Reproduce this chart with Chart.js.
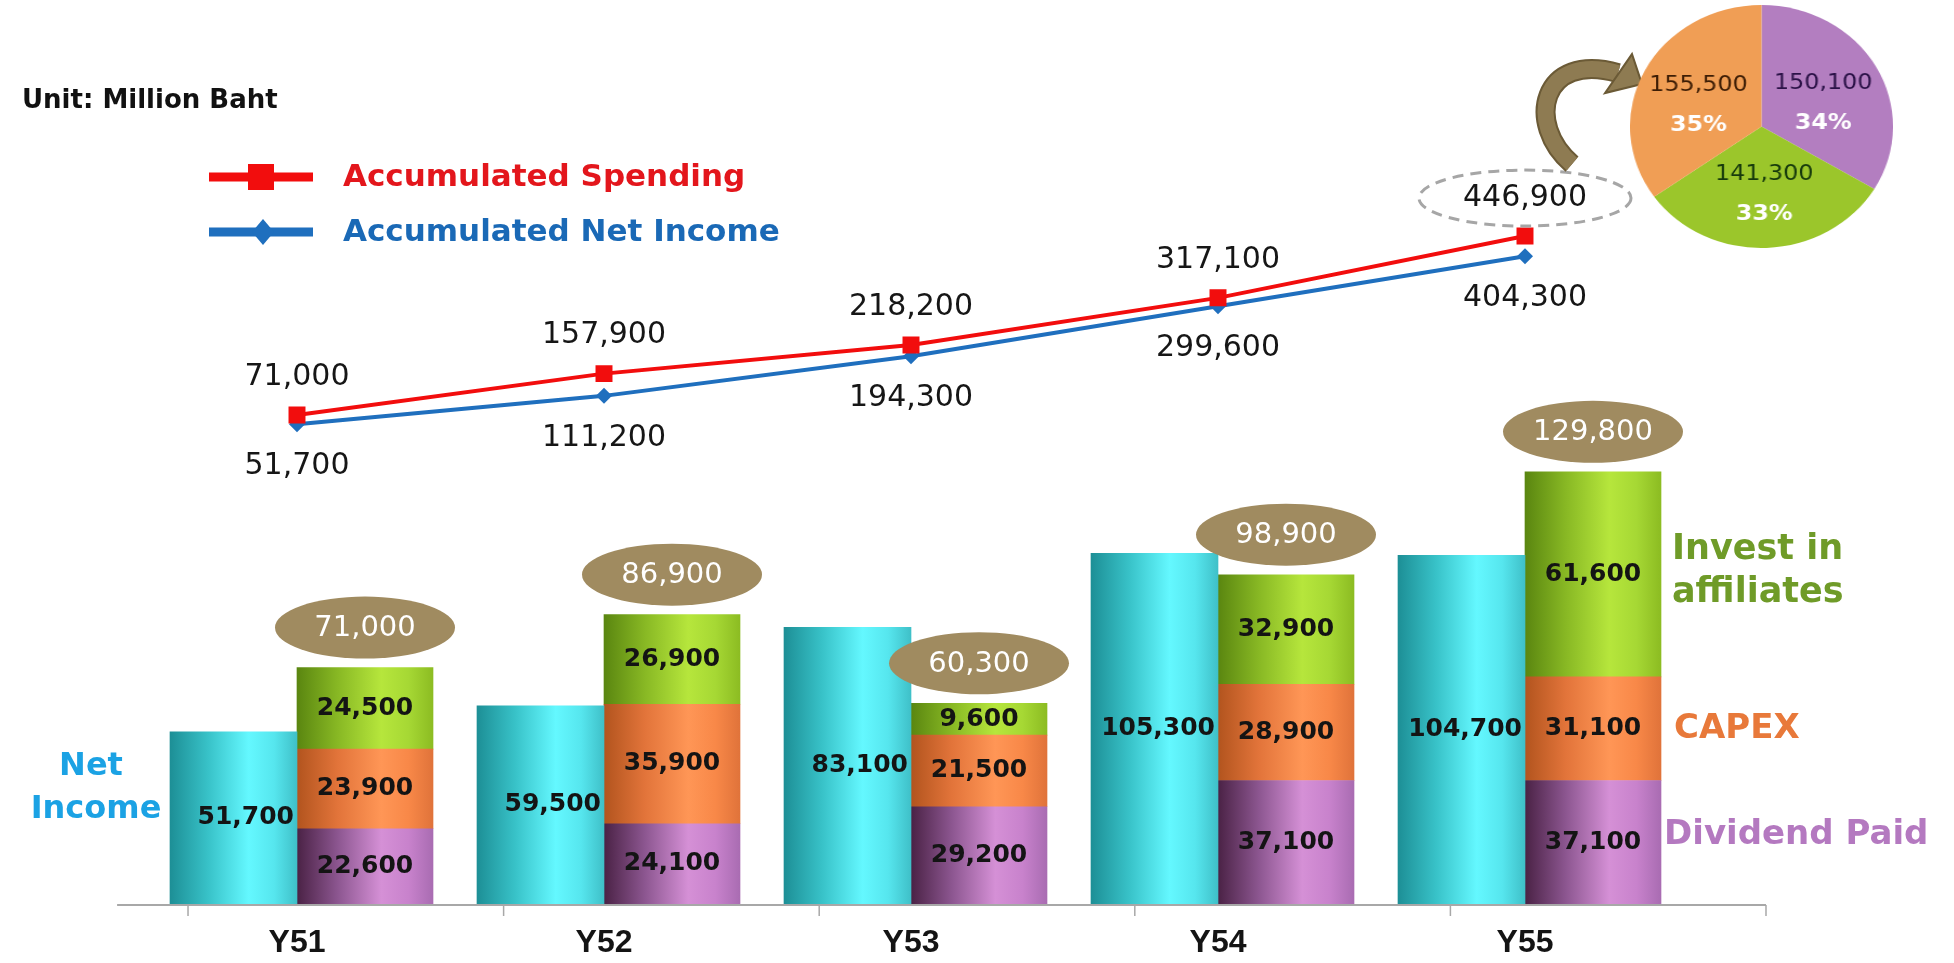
<!DOCTYPE html>
<html><head><meta charset="utf-8">
<script src="https://cdn.jsdelivr.net/npm/chart.js@4.4.0/dist/chart.umd.min.js"></script>
<style>
html,body{margin:0;padding:0;background:#fff;overflow:hidden;}
#wrap{position:relative;width:1954px;height:963px;background:#fff;}
#main{position:absolute;left:0;top:0;}
#pie{position:absolute;left:1630px;top:5px;transform:scaleX(1.0823);transform-origin:0 0;}
</style></head><body>
<div id="wrap">
<canvas id="main" width="1954" height="963"></canvas>
<canvas id="pie" width="243" height="243"></canvas>
</div>
<script>
// ---------- data ----------
const categories = ['Y51', 'Y52', 'Y53', 'Y54', 'Y55'];
const netIncome = [51700, 59500, 83100, 105300, 104700];
const dividendPaid = [22600, 24100, 29200, 37100, 37100];
const capex = [23900, 35900, 21500, 28900, 31100];
const investAffiliates = [24500, 26900, 9600, 32900, 61600];
const accSpending = [71000, 157900, 218200, 317100, 446900];
const accNetIncome = [51700, 111200, 194300, 299600, 404300];
const pieSliceValues = [150100, 141300, 155500];
const pieSlicePercents = ['34%', '33%', '35%'];
const pieColors = ['#b37ec0', '#9bc62b', '#f09e55'];
const pieTextColors = ['#2b1247', '#163a0c', '#3d1d05'];

const FONT = '"DejaVu Sans", Verdana, sans-serif';
const fmt = v => v.toLocaleString('en-US');

function cylinder(stops, side) {
  return function (c) {
    const chart = c.chart;
    const xs = chart.scales && chart.scales.x;
    if (!chart.chartArea || !xs || c.dataIndex === undefined) return stops[3][1];
    const cx = xs.getPixelForValue(c.dataIndex);
    const w = c.dataset.barThickness;
    const x0 = side === 'left' ? cx - w : cx;
    const g = chart.ctx.createLinearGradient(x0, 0, x0 + w, 0);
    stops.forEach(s => g.addColorStop(s[0], s[1]));
    return g;
  };
}
const cyanStops = [[0, '#1d8f96'], [0.3, '#38c2c8'], [0.62, '#64f8ff'], [0.82, '#56e6ee'], [1, '#3fc0c8']];
const purpleStops = [[0, '#4a2245'], [0.3, '#8c5690'], [0.62, '#d590d6'], [0.82, '#c882cc'], [1, '#a96cb2']];
const orangeStops = [[0, '#b2541e'], [0.3, '#e2743a'], [0.62, '#ff9656'], [0.82, '#f88848'], [1, '#e0733a']];
const greenStops = [[0, '#5a8610'], [0.3, '#88b824'], [0.62, '#b6e63c'], [0.82, '#a6d834'], [1, '#8cbc22']];

// ---------- plugins ----------
const axisPlugin = {
  id: 'axisLine',
  beforeDatasetsDraw(chart) {
    const xs = chart.scales.x, ctx = chart.ctx;
    const p0 = xs.getPixelForValue(0), cw = xs.getPixelForValue(1) - p0;
    const y = chart.chartArea.bottom + 1;
    ctx.save();
    ctx.strokeStyle = '#a8a8a8';
    ctx.lineWidth = 2;
    ctx.beginPath();
    ctx.moveTo(p0 - 0.586 * cw, y);
    ctx.lineTo(p0 + 4.785 * cw, y);
    ctx.stroke();
    ctx.lineWidth = 1.5;
    for (let k = 0; k <= 5; k++) {
      const tx = p0 - 0.355 * cw + k * 1.028 * cw;
      ctx.beginPath(); ctx.moveTo(tx, y); ctx.lineTo(tx, y + 11); ctx.stroke();
    }
    ctx.restore();
  }
};

const labelPlugin = {
  id: 'valueLabels',
  afterDatasetsDraw(chart) {
    const ctx = chart.ctx;
    ctx.save();
    ctx.textBaseline = 'middle';
    const spendTops = [];
    chart.data.datasets.forEach((ds, di) => {
      const meta = chart.getDatasetMeta(di);
      if (meta.type === 'bar') {
        meta.data.forEach((el, i) => {
          const p = el.getProps(['x', 'y', 'base', 'width'], true);
          ctx.font = 'bold 25px ' + FONT;
          ctx.fillStyle = '#141414';
          if (ds.stack === 'ni') {
            ctx.textAlign = 'right';
            ctx.fillText(fmt(ds.data[i]), p.x + p.width / 2 - 3, (p.y + p.base) / 2);
          } else {
            ctx.textAlign = 'center';
            ctx.fillText(fmt(ds.data[i]), p.x, (p.y + p.base) / 2);
            if (!spendTops[i] || p.y < spendTops[i].y) spendTops[i] = {x: p.x, y: p.y};
          }
        });
      } else if (meta.type === 'line') {
        meta.data.forEach((el, i) => {
          ctx.font = '30px ' + FONT;
          ctx.fillStyle = '#161616';
          ctx.textAlign = 'center';
          const dy = ds.labelPos === 'above' ? -38 : 42;
          ctx.fillText(fmt(ds.data[i]), el.x, el.y + dy);
        });
      }
    });
    // totals in brown ellipses
    spendTops.forEach((t, i) => {
      const total = dividendPaid[i] + capex[i] + investAffiliates[i];
      const cy = t.y - 40;
      ctx.beginPath();
      ctx.ellipse(t.x, cy, 90, 31, 0, 0, Math.PI * 2);
      ctx.fillStyle = '#a08b60';
      ctx.fill();
      ctx.font = '29px ' + FONT;
      ctx.fillStyle = '#ffffff';
      ctx.textAlign = 'center';
      ctx.fillText(fmt(total), t.x, cy + 1);
    });
    ctx.restore();
  }
};

const decorPlugin = {
  id: 'decor',
  afterDraw(chart) {
    const ctx = chart.ctx;
    const ds = chart.data.datasets;
    ctx.save();
    ctx.textBaseline = 'middle';
    // Unit
    ctx.font = 'bold 26px ' + FONT;
    ctx.fillStyle = '#111';
    ctx.textAlign = 'left';
    ctx.fillText('Unit: Million Baht', 22, 101);
    // legend
    const leg = [ds[0], ds[1]];
    const legY = [177, 232];
    leg.forEach((d, k) => {
      const y = legY[k];
      ctx.strokeStyle = d.borderColor;
      ctx.lineWidth = 9;
      ctx.beginPath(); ctx.moveTo(209, y); ctx.lineTo(313, y); ctx.stroke();
      ctx.fillStyle = d.borderColor;
      if (d.pointStyle === 'rect') {
        ctx.fillRect(248, y - 13, 26, 26);
      } else {
        ctx.beginPath();
        ctx.moveTo(263, y - 13); ctx.lineTo(274, y); ctx.lineTo(263, y + 13); ctx.lineTo(252, y); ctx.closePath();
        ctx.fill();
      }
      ctx.font = 'bold 31px ' + FONT;
      ctx.fillStyle = d.legendText;
      ctx.textAlign = 'left';
      ctx.fillText(d.label, 343, y + 1);
    });
    // series names beside bars
    const last = categories.length - 1;
    const sideLabel = (di, lines, color, dyAdj, dxAdj) => {
      const el = chart.getDatasetMeta(di).data[last];
      const p = el.getProps(['x', 'y', 'base', 'width'], true);
      const cy = (p.y + p.base) / 2 + dyAdj;
      ctx.fillStyle = color;
      ctx.textAlign = 'left';
      lines.forEach((t, j) => ctx.fillText(t, p.x + p.width / 2 + 11 + dxAdj, cy + (j - (lines.length - 1) / 2) * 43));
    };
    ctx.font = 'bold 35px ' + FONT;
    sideLabel(5, ['Invest in', 'affiliates'], '#6f9b28', -3, 0);
    ctx.font = 'bold 34px ' + FONT;
    sideLabel(4, ['CAPEX'], '#e8793a', 0, 2);
    ctx.font = 'bold 34px ' + FONT;
    sideLabel(3, ['Dividend Paid'], '#b479c0', -7, -8);
    // Net Income label
    const ni = chart.getDatasetMeta(2).data[0].getProps(['x', 'width', 'y', 'base'], true);
    ctx.font = 'bold 32px ' + FONT;
    ctx.fillStyle = '#1ba2e4';
    ctx.textAlign = 'center';
    const nx = ni.x - ni.width / 2 - 74;
    const ny = (ni.y + ni.base) / 2 - 30;
    ctx.fillText('Net', nx - 5, ny - 21);
    ctx.fillText('Income', nx, ny + 22);
    // dashed ellipse around last accumulated spending label + arrow to pie
    const lp = chart.getDatasetMeta(0).data[last];
    ctx.setLineDash([11, 7]);
    ctx.strokeStyle = '#a6a6a6';
    ctx.lineWidth = 3;
    ctx.beginPath();
    ctx.ellipse(lp.x, lp.y - 38, 106, 28, 0, 0, Math.PI * 2);
    ctx.stroke();
    ctx.setLineDash([]);
    const P = (dx, dy) => [lp.x + dx, lp.y + dy];
    const a0 = P(47, -72), c1 = P(0, -112), c2 = P(16, -185), a3 = P(93, -163);
    const body = () => { ctx.beginPath(); ctx.moveTo(...a0); ctx.bezierCurveTo(...c1, ...c2, ...a3); };
    ctx.lineCap = 'butt';
    ctx.strokeStyle = '#6b5a36'; ctx.lineWidth = 20; body(); ctx.stroke();
    ctx.strokeStyle = '#8e7b52'; ctx.lineWidth = 16; body(); ctx.stroke();
    const h1 = P(107, -182), h2 = P(80, -143), h3 = P(117, -152);
    ctx.beginPath(); ctx.moveTo(...h1); ctx.lineTo(...h3); ctx.lineTo(...h2); ctx.closePath();
    ctx.fillStyle = '#8e7b52'; ctx.fill();
    ctx.strokeStyle = '#6b5a36'; ctx.lineWidth = 2; ctx.stroke();
    ctx.restore();
  }
};

// ---------- main chart ----------
new Chart(document.getElementById('main'), {
  data: {
    labels: categories,
    datasets: [
      { type: 'line', label: 'Accumulated Spending', data: accSpending, yAxisID: 'yLine',
        borderColor: '#f20d0d', backgroundColor: '#f20d0d', borderWidth: 4, pointStyle: 'rect',
        pointRadius: 12, pointBorderWidth: 0, pointBackgroundColor: '#f20d0d', labelPos: 'above',
        legendText: '#e3161c', order: 0 },
      { type: 'line', label: 'Accumulated Net Income', data: accNetIncome, yAxisID: 'yLine',
        borderColor: '#1f6fbe', backgroundColor: '#1f6fbe', borderWidth: 4, pointStyle: 'rectRot',
        pointRadius: 8, pointBorderWidth: 0, pointBackgroundColor: '#1f6fbe', labelPos: 'below',
        legendText: '#1a69b6', order: 1 },
      { type: 'bar', label: 'Net Income', data: netIncome, yAxisID: 'yBar', stack: 'ni',
        barThickness: 127, backgroundColor: cylinder(cyanStops, 'left'), order: 2 },
      { type: 'bar', label: 'Dividend Paid', data: dividendPaid, yAxisID: 'yBar', stack: 'sp',
        barThickness: 136, backgroundColor: cylinder(purpleStops, 'right'), order: 3 },
      { type: 'bar', label: 'CAPEX', data: capex, yAxisID: 'yBar', stack: 'sp',
        barThickness: 136, backgroundColor: cylinder(orangeStops, 'right'), order: 4 },
      { type: 'bar', label: 'Invest in affiliates', data: investAffiliates, yAxisID: 'yBar', stack: 'sp',
        barThickness: 136, backgroundColor: cylinder(greenStops, 'right'), order: 5 }
    ]
  },
  options: {
    responsive: false,
    devicePixelRatio: 1,
    animation: false,
    layout: { padding: { left: 143.5, right: 275.5, top: 40, bottom: 0 } },
    plugins: { legend: { display: false }, tooltip: { enabled: false } },
    scales: {
      x: {
        grid: { display: false, drawTicks: false },
        border: { display: false },
        ticks: { font: { family: '"Liberation Sans", Arial, sans-serif', weight: 'bold', size: 32 }, color: '#141414', padding: 20 },
        afterFit(s) { s.height = 59; }
      },
      yBar: { display: false, stacked: true, min: 0, max: 259500 },
      yLine: { display: false, min: -956300, max: 858800 }
    }
  },
  plugins: [axisPlugin, labelPlugin, decorPlugin]
});

// ---------- pie ----------
const pieLabelPlugin = {
  id: 'pieLabels',
  afterDatasetsDraw(chart) {
    const ctx = chart.ctx;
    const meta = chart.getDatasetMeta(0);
    ctx.save();
    ctx.textAlign = 'center';
    ctx.textBaseline = 'middle';
    meta.data.forEach((arc, i) => {
      const p = arc.getProps(['x', 'y', 'startAngle', 'endAngle', 'outerRadius'], true);
      const mid = (p.startAngle + p.endAngle) / 2;
      const cx = p.x + Math.cos(mid) * p.outerRadius * 0.54;
      const cy = p.y + Math.sin(mid) * p.outerRadius * 0.5 + 5;
      ctx.font = '22px ' + FONT;
      ctx.fillStyle = pieTextColors[i];
      ctx.fillText(fmt(pieSliceValues[i]), cx, cy - 18);
      ctx.font = 'bold 22px ' + FONT;
      ctx.fillStyle = '#ffffff';
      ctx.fillText(pieSlicePercents[i], cx, cy + 22);
    });
    ctx.restore();
  }
};
new Chart(document.getElementById('pie'), {
  type: 'pie',
  data: {
    labels: ['Dividend Paid', 'CAPEX', 'Invest in affiliates'],
    datasets: [{ data: pieSliceValues, backgroundColor: pieColors, borderWidth: 0 }]
  },
  options: {
    responsive: false,
    devicePixelRatio: 1,
    animation: false,
    layout: { padding: 0 },
    plugins: { legend: { display: false }, tooltip: { enabled: false } }
  },
  plugins: [pieLabelPlugin]
});
</script>
</body></html>
